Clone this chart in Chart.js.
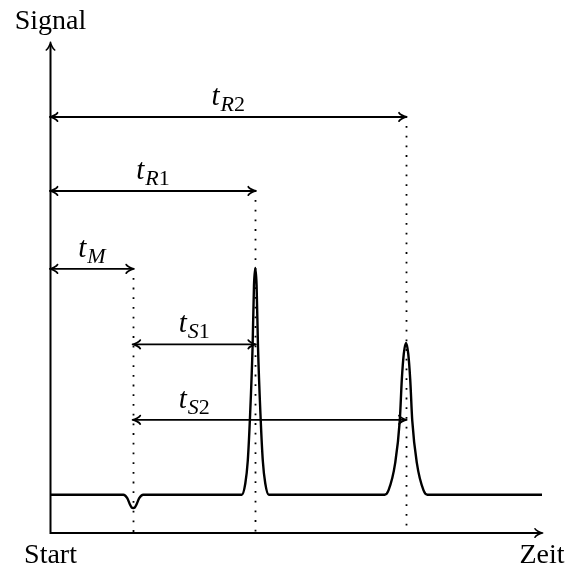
<!DOCTYPE html>
<html>
<head>
<meta charset="utf-8">
<script src="https://cdn.jsdelivr.net/npm/chart.js@4.4.0/dist/chart.umd.min.js"></script>
<style>
  html, body { margin: 0; padding: 0; background: #fff; }
</style>
</head>
<body>
<canvas id="chart" width="568" height="567"></canvas>
<script>
'use strict';

// Signal trace (time in s, signal in arbitrary units)
const traceTime = [0, 89, 93.7, 97.3, 99.2, 101, 102.8, 104.7, 108.3, 113.2,
    233.5, 237.8, 240.8, 243.5, 246.7, 248.4, 250, 251.6, 253.3, 256.5, 259.2, 262.2, 266.5,
    407.8, 412.6, 420.8, 426.4, 428.9, 431.3, 434, 436.7, 439.1, 441.6, 447.2, 455.4, 460.2, 600];
const traceSignal = [7.8, 7.8, 7.1, 5.7, 5.2, 5.1, 5.2, 5.7, 7.1, 7.8,
    7.8, 10.1, 14.7, 23.5, 38.0, 50.5, 54.1, 50.5, 38.0, 23.5, 14.7, 10.1, 7.8,
    7.8, 8.7, 14.3, 23.0, 31.4, 36.6, 38.8, 36.6, 31.4, 23.0, 14.3, 8.7, 7.8, 7.8];

// Characteristic times (dead time, retention times)
const markerTimes = [101, 250, 434];

// Time spans drawn as double arrows: subscript, start, end, height on the signal axis,
// and the time the label sits over
const spanLabels = ['M', 'R1', 'R2', 'S1', 'S2'];
const spanStart = [0, 0, 0, 101, 101];
const spanEnd = [101, 250, 434, 250, 434];
const spanLevel = [53.9, 69.8, 84.9, 38.5, 23.1];
const spanLabelTime = [50.5, 125, 217, 175.5, 175.5];

// Axis texts
const yAxisLabel = 'Signal';
const xStartLabel = 'Start';
const xEndLabel = 'Zeit';

const SERIF = '"Liberation Serif", "Times New Roman", serif';

// TikZ-like "to" arrow tip pointing along (dx, dy)
function arrowHead(ctx, x, y, dx, dy) {
    const nx = -dy, ny = dx;
    const p = (a, b) => [x + dx * a + nx * b, y + dy * a + ny * b];
    const tip = p(0.6, 0);
    ctx.beginPath();
    for (const s of [1, -1]) {
        const a = p(-7, 4.2 * s), c1 = p(-6.2, 2.4 * s), c2 = p(-1.5, 0.4 * s);
        ctx.moveTo(a[0], a[1]);
        ctx.bezierCurveTo(c1[0], c1[1], c2[0], c2[1], tip[0], tip[1]);
    }
    ctx.stroke();
}

function spanText(ctx, sub, cx, baseY) {
    const letter = sub.replace(/[0-9]/g, '');
    const digit = sub.replace(/[^0-9]/g, '');
    const tFont = 'italic 29px ' + SERIF;
    const subFont = 'italic 22px ' + SERIF;
    const digFont = '22px ' + SERIF;
    ctx.font = tFont;
    const wt = ctx.measureText('t').width;
    ctx.font = subFont;
    const wl = ctx.measureText(letter).width;
    ctx.font = digFont;
    const wd = ctx.measureText(digit).width;
    let x = cx - (wt + 1 + wl + wd) / 2;
    ctx.textAlign = 'left';
    ctx.textBaseline = 'alphabetic';
    ctx.font = tFont;
    ctx.fillText('t', x, baseY);
    x += wt + 1;
    ctx.font = subFont;
    ctx.fillText(letter, x, baseY + 6);
    x += wl;
    ctx.font = digFont;
    ctx.fillText(digit, x, baseY + 6);
}

const sketchPlugin = {
    id: 'sketch',
    beforeDatasetsDraw(chart) {
        const ctx = chart.ctx;
        const a = chart.chartArea;
        ctx.save();
        ctx.strokeStyle = '#000';
        ctx.lineWidth = 2;
        ctx.lineCap = 'butt';
        ctx.beginPath();
        ctx.moveTo(a.left, a.bottom + 1);
        ctx.lineTo(a.left, a.top + 1);
        ctx.moveTo(a.left - 1, a.bottom);
        ctx.lineTo(a.right - 1, a.bottom);
        ctx.stroke();
        ctx.lineWidth = 1.6;
        ctx.lineCap = 'round';
        arrowHead(ctx, a.left, a.top, 0, -1);
        arrowHead(ctx, a.right, a.bottom, 1, 0);

        ctx.fillStyle = '#000';
        ctx.font = '28px ' + SERIF;
        ctx.textAlign = 'center';
        ctx.textBaseline = 'alphabetic';
        ctx.fillText(yAxisLabel, a.left, 29);
        ctx.fillText(xStartLabel, a.left, 563);
        ctx.fillText(xEndLabel, a.right, 563);
        ctx.restore();
    },
    afterDatasetsDraw(chart) {
        const ctx = chart.ctx;
        const xs = chart.scales.x, ys = chart.scales.y;
        ctx.save();
        ctx.strokeStyle = '#000';
        ctx.fillStyle = '#000';

        // dotted guides from the highest arrow that touches each time down to the axis
        ctx.lineWidth = 1.8;
        ctx.lineCap = 'butt';
        ctx.setLineDash([1.8, 7.9]);
        for (const t of markerTimes) {
            let top = 0;
            spanLevel.forEach((lv, i) => {
                if (spanStart[i] === t || spanEnd[i] === t) top = Math.max(top, lv);
            });
            const px = Math.round(xs.getPixelForValue(t)) + 0.5;
            ctx.beginPath();
            ctx.moveTo(px, ys.getPixelForValue(top) + 9);
            ctx.lineTo(px, ys.getPixelForValue(0));
            ctx.stroke();
        }
        ctx.setLineDash([]);

        // double arrows with labels
        for (let i = 0; i < spanLabels.length; i++) {
            const x0 = xs.getPixelForValue(spanStart[i]);
            const x1 = xs.getPixelForValue(spanEnd[i]);
            const y = ys.getPixelForValue(spanLevel[i]);
            ctx.lineWidth = 1.8;
            ctx.lineCap = 'butt';
            ctx.beginPath();
            ctx.moveTo(x0 + 1, y);
            ctx.lineTo(x1 - 1, y);
            ctx.stroke();
            ctx.lineCap = 'round';
            arrowHead(ctx, x0, y, -1, 0);
            arrowHead(ctx, x1, y, 1, 0);
            spanText(ctx, spanLabels[i], xs.getPixelForValue(spanLabelTime[i]), y - 12);
        }
        ctx.restore();
    }
};

const ctx = document.getElementById('chart').getContext('2d');
new Chart(ctx, {
    type: 'line',
    data: {
        datasets: [{
            data: traceTime.map((t, i) => ({ x: t, y: traceSignal[i] })),
            borderColor: '#000',
            borderWidth: 2.4,
            pointRadius: 0,
            fill: false,
            cubicInterpolationMode: 'monotone'
        }]
    },
    options: {
        responsive: false,
        animation: false,
        layout: { padding: { left: 50.5, right: 26, top: 43, bottom: 34 } },
        plugins: { legend: { display: false }, tooltip: { enabled: false } },
        scales: {
            x: { type: 'linear', min: 0, max: 600, display: false },
            y: { type: 'linear', min: 0, max: 100, display: false }
        }
    },
    plugins: [sketchPlugin]
});
</script>
</body>
</html>
